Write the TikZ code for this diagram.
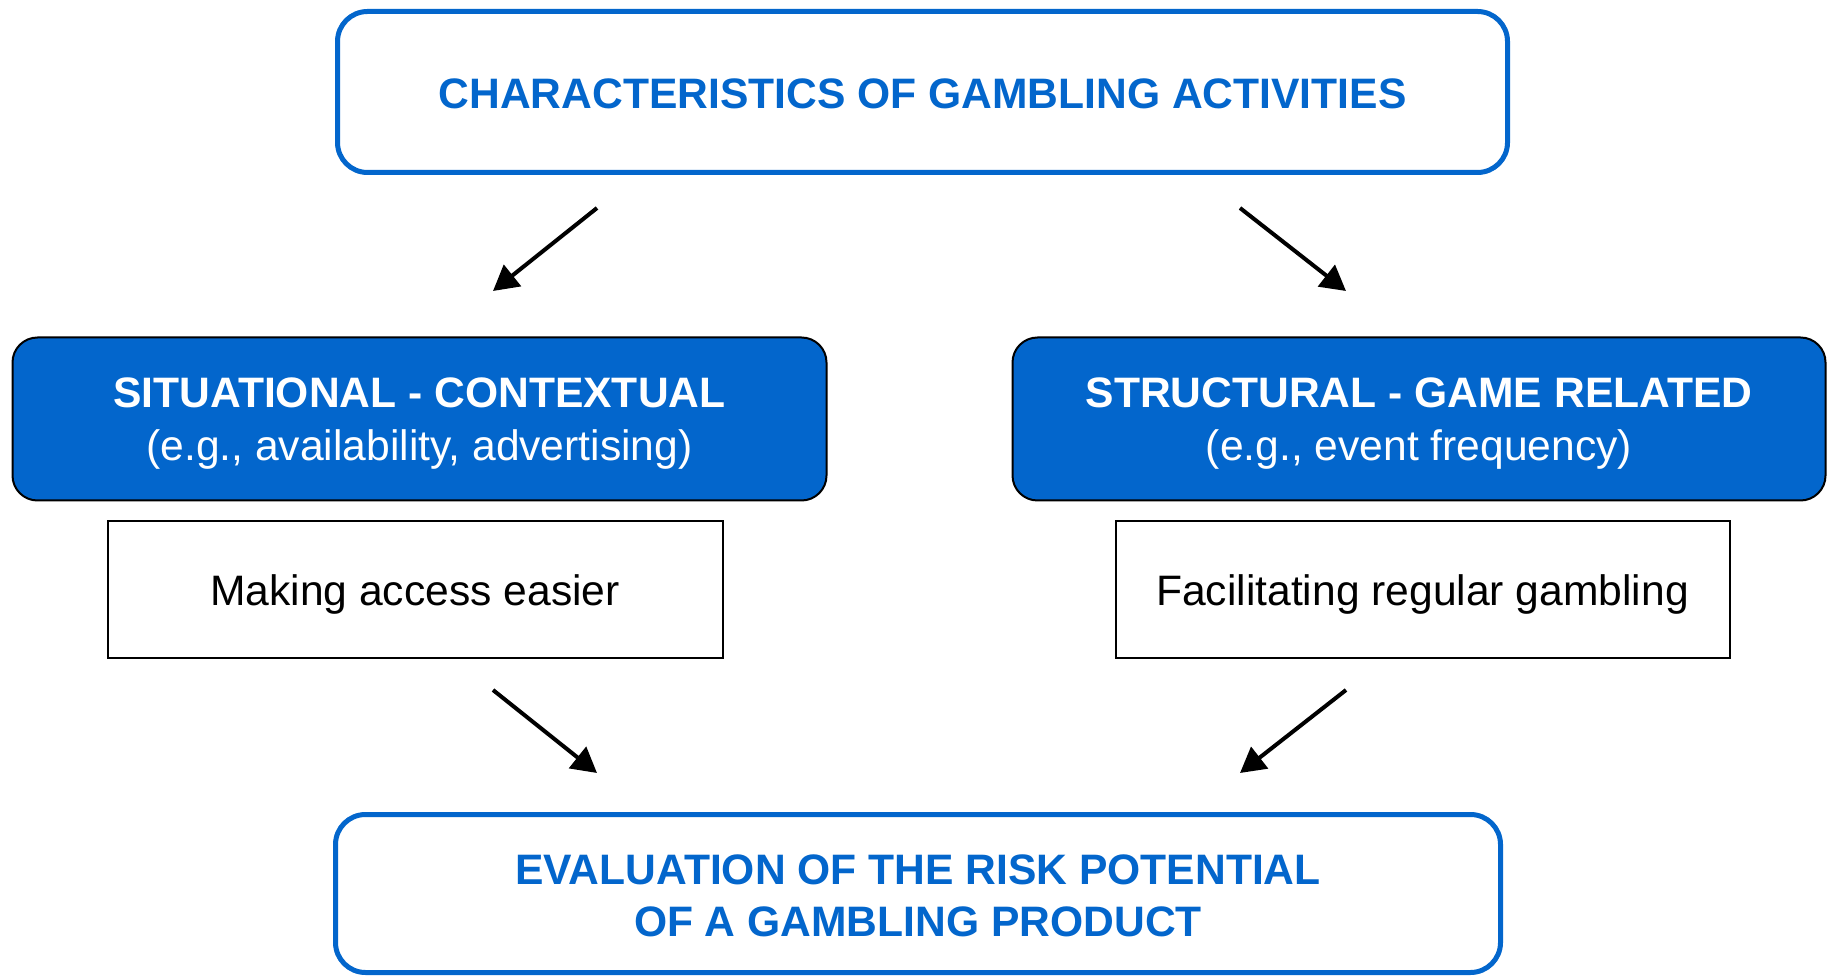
\documentclass[tikz,border=0pt]{standalone}
\usepackage{fontspec}
\setmainfont{Liberation Sans}
\usetikzlibrary{arrows.meta}
\definecolor{tblue}{RGB}{3,102,204}
\tikzset{
  outerbox/.style={draw=tblue, line width=2.5pt, rounded corners=15pt, fill=white, inner sep=0pt},
  bluebox/.style={draw=black, line width=1pt, rounded corners=12.5pt, fill=tblue, inner sep=0pt},
  whitebox/.style={draw=black, line width=1pt, fill=white, inner sep=0pt},
  outertext/.style={inner sep=0pt, font=\fontsize{21.3}{26}\selectfont\bfseries, text=tblue, align=center},
  bluetext/.style={inner sep=0pt, text=white, align=center, font=\fontsize{21.3}{26.5}\selectfont},
  whitetext/.style={inner sep=0pt, font=\fontsize{21.3}{26}\selectfont, align=center},
  arr/.style={line width=2pt, -{Triangle[length=12.5pt, width=13.5pt]}}
}
\begin{document}
\begin{tikzpicture}[x=0.5pt, y=-0.5pt]
\useasboundingbox (0,0) rectangle (1835,977);
\node[outerbox, minimum width=585pt, minimum height=80.5pt] (top) at (922.5,92) {};
\node[outertext] (topT) at ([yshift=-1pt]top.center) {CHARACTERISTICS OF GAMBLING ACTIVITIES};
\node[bluebox, minimum width=407pt, minimum height=81.5pt] (sit) at (419.5,419) {};
\node[bluetext] (sitT) at ([yshift=-2.5pt]sit.center) {\textbf{SITUATIONAL - CONTEXTUAL}\\(e.g., availability, advertising)};
\node[bluebox, minimum width=406.5pt, minimum height=81.5pt] (str) at (1419,419) {};
\node[bluetext] (strT) at ([yshift=-2.5pt]str.center) {\textbf{STRUCTURAL - GAME RELATED}\\(e.g., event frequency)};
\node[whitebox, minimum width=307.5pt, minimum height=68pt] (acc) at (415,589.5) {};
\node[whitetext] (accT) at ([yshift=-2.5pt]acc.center) {Making access easier};
\node[whitebox, minimum width=307pt, minimum height=68pt] (reg) at (1422.5,589.5) {};
\node[whitetext] (regT) at ([yshift=-2.5pt]reg.center) {Facilitating regular gambling};
\node[outerbox, minimum width=582.5pt, minimum height=79pt] (eval) at (918,893.5) {};
\node[outertext] (evalT) at ([yshift=-1pt]eval.center) {EVALUATION OF THE RISK POTENTIAL\\OF A GAMBLING PRODUCT};
\coordinate (a1s) at (597,208); \coordinate (a1e) at (493,291);
\coordinate (a2s) at (1240,208); \coordinate (a2e) at (1346,291);
\coordinate (a3s) at (493,690); \coordinate (a3e) at (597,773);
\coordinate (a4s) at (1346,690); \coordinate (a4e) at (1240,773);
\draw[arr] (a1s) -- (a1e);
\draw[arr] (a2s) -- (a2e);
\draw[arr] (a3s) -- (a3e);
\draw[arr] (a4s) -- (a4e);
\end{tikzpicture}
\end{document}
